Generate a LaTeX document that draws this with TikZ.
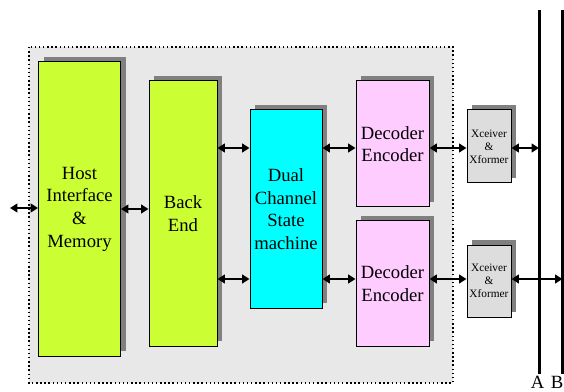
\documentclass[tikz,border=0pt]{standalone}
\usepackage{fontspec}
\setmainfont{Liberation Serif}
\usetikzlibrary{shadows}
\usetikzlibrary {arrows.meta}

\definecolor{limebox}{RGB}{204,255,51}
\definecolor{cyanbox}{RGB}{0,255,255}
\definecolor{pinkbox}{RGB}{255,204,255}
\definecolor{greybox}{RGB}{221,221,221}
\definecolor{panel}{RGB}{232,232,232}

\tikzset{
  block/.style={draw, line width=0.75pt, inner sep=0pt, align=center,
    font=\rmfamily\fontsize{14}{17}\selectfont,
    drop shadow={shadow xshift=3.75pt, shadow yshift=3.75pt, fill=black!50, opacity=1}},
  small/.style={font=\rmfamily\fontsize{8.5}{9.75}\selectfont},
  link/.style={line width=1.6pt, arrows = {Triangle[length=5.5pt,width=6.5pt]-Triangle[length=5.5pt,width=6.5pt]}},
  bus/.style={line width=2.25pt},
  buslabel/.style={inner sep=0pt, anchor=base, font=\rmfamily\fontsize{14}{17}\selectfont}
}

\begin{document}
\begin{tikzpicture}[x=0.75pt,y=-0.75pt]

            %\draw [help lines] (0,0) grid (564,392);
            \useasboundingbox (0,0) rectangle (564,392);

            \draw[dotted, line width=1.1pt, fill=panel] (29,47) rectangle (453,383);

            \path   (79.5,209) node (host) [block,fill=limebox,minimum width=61.5pt,minimum height=220.5pt] {Host\\Interface\\\&\\Memory}
                    (183,213.5) node (back) [block,fill=limebox,minimum width=51pt,minimum height=198.75pt] {Back\\End}
                    (286,209) node (dual) [block,fill=cyanbox,minimum width=54pt,minimum height=148.5pt] {Dual\\Channel\\State\\machine}
                    (392.5,144) node (deca) [block,fill=pinkbox,minimum width=54.75pt,minimum height=94.5pt] {Decoder\\Encoder}
                    (392.5,283.5) node (decb) [block,fill=pinkbox,minimum width=54.75pt,minimum height=93.75pt] {Decoder\\Encoder}
                    (489,146.5) node (xca) [block,small,fill=greybox,minimum width=33pt,minimum height=54.75pt] {Xceiver\\\&\\Xformer}
                    (489,281) node (xcb) [block,small,fill=greybox,minimum width=33pt,minimum height=54pt] {Xceiver\\\&\\Xformer};

            % rows of the two channels
            \coordinate (rowa) at (0,148);
            \coordinate (rowb) at (0,279);
            \coordinate (host in) at (10,208);

            % bus lines
            \coordinate (atop) at (539,10);
            \coordinate (abot) at (539,374);
            \coordinate (btop) at (562.5,10);
            \coordinate (bbot) at (562.5,374);
            \draw[bus] (atop) -- (abot);
            \draw[bus] (btop) -- (bbot);
            \node (la) [buslabel] at (537.5,388.5) {A};
            \node (lb) [buslabel,anchor=base east] at (563.5,388.5) {B};

            \draw[link] (host in) -- (host.west |- host in);
            \draw[link] (host.east) -- (back.west |- host.east);
            \draw[link] (back.east |- rowa) -- (dual.west |- rowa);
            \draw[link] (back.east |- rowb) -- (dual.west |- rowb);
            \draw[link] (dual.east |- rowa) -- (deca.west |- rowa);
            \draw[link] (dual.east |- rowb) -- (decb.west |- rowb);
            \draw[link] (deca.east |- rowa) -- (xca.west |- rowa);
            \draw[link] (decb.east |- rowb) -- (xcb.west |- rowb);
            \draw[link] (xca.east |- rowa) -- (atop |- rowa);
            \draw[link] (xcb.east |- rowb) -- (btop |- rowb);

\end{tikzpicture}
\end{document}
